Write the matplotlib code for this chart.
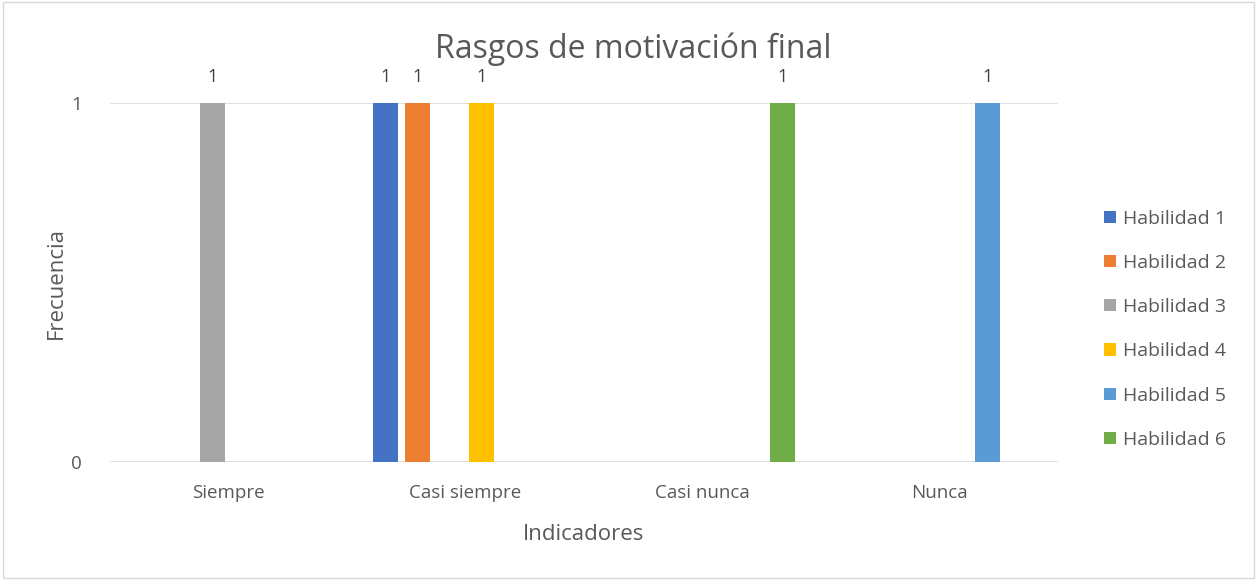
import numpy as np
import matplotlib.pyplot as plt

plt.rcParams['font.family'] = ['Open Sans', 'DejaVu Sans']

categorias = ["Siempre", "Casi siempre", "Casi nunca", "Nunca"]
series = ["Habilidad 1", "Habilidad 2", "Habilidad 3", "Habilidad 4", "Habilidad 5", "Habilidad 6"]
# celdas vacías = nan
hab1 = [np.nan, 1, np.nan, np.nan]
hab2 = [np.nan, 1, np.nan, np.nan]
hab3 = [1, np.nan, np.nan, np.nan]
hab4 = [np.nan, 1, np.nan, np.nan]
hab5 = [np.nan, np.nan, np.nan, 1]
hab6 = [np.nan, np.nan, 1, np.nan]
valores = [hab1, hab2, hab3, hab4, hab5, hab6]
colores = ["#4472C4", "#ED7D31", "#A5A5A5", "#FFC000", "#5B9BD5", "#70AD47"]

fig = plt.figure(figsize=(12.57, 5.8), dpi=100)
ax = fig.add_axes([0.0875, 0.2034, 0.7542, 0.619])

x = np.arange(len(categorias))
paso = 0.135
ancho = 0.105
for i, (nombre, vals, c) in enumerate(zip(series, valores, colores)):
    pos = x + (i - 2.5) * paso
    ax.bar(pos, vals, width=ancho, color=c, label=nombre, zorder=3)
    for p, v in zip(pos, vals):
        if not np.isnan(v):
            ax.text(p, v + 0.072, f"{int(v)}", ha="center", va="center",
                    fontsize=13, color="#404040")

ax.set_xlim(-0.5, len(categorias) - 0.5)
ax.set_ylim(0, 1)
ax.set_yticks([0, 1])
ax.set_xticks(x)
ax.set_xticklabels(categorias)
ax.tick_params(axis="both", length=0, labelsize=13.5, labelcolor="#595959")
ax.tick_params(axis="x", pad=16)
ax.tick_params(axis="y", pad=20)
ax.yaxis.grid(True, color="#D9D9D9", linewidth=1.2, zorder=0)
for s in ax.spines.values():
    s.set_visible(False)

ax.set_xlabel("Indicadores", fontsize=16, color="#595959", labelpad=16)
ax.set_ylabel("Frecuencia", fontsize=16, color="#595959", labelpad=3)
fig.text(0.504, 0.915, "Rasgos de motivación final", ha="center", va="center",
         fontsize=23, color="#595959")

ax.legend(loc="center left", bbox_to_anchor=(1.03, 0.37), frameon=False,
          fontsize=14, labelcolor="#595959", handlelength=0.6, handleheight=0.6,
          handletextpad=0.4, labelspacing=1.35)

# borde del área del gráfico
fig.patches.append(plt.Rectangle((0.002, 0.003), 0.996, 0.994, transform=fig.transFigure,
                                 fill=False, edgecolor="#D9D9D9", linewidth=1))

fig.savefig("out.png", dpi=100, facecolor="white")
